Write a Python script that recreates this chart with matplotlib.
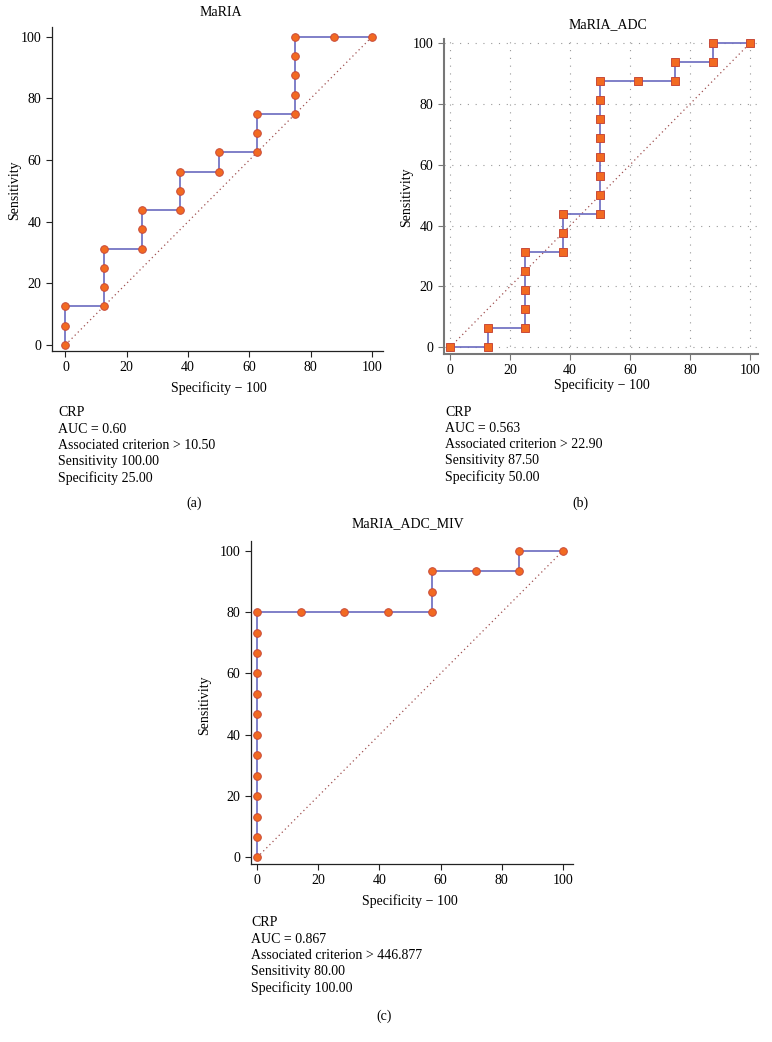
import matplotlib
matplotlib.use("Agg")
import matplotlib.pyplot as plt

plt.rcParams['font.family'] = ['Liberation Serif', 'DejaVu Serif']
plt.rcParams['font.size'] = 10

# ROC points (specificity - 100, sensitivity)
a_x = [0, 0, 0, 12.5, 12.5, 12.5, 12.5, 25, 25, 25, 37.5, 37.5, 37.5, 50, 50,
       62.5, 62.5, 62.5, 75, 75, 75, 75, 75, 87.5, 100]
a_y = [0, 6.25, 12.5, 12.5, 18.75, 25, 31.25, 31.25, 37.5, 43.75, 43.75, 50, 56.25,
       56.25, 62.5, 62.5, 68.75, 75, 75, 81.25, 87.5, 93.75, 100, 100, 100]

b_x = [0, 12.5, 12.5, 25, 25, 25, 25, 25, 37.5, 37.5, 37.5, 50, 50, 50, 50, 50,
       50, 50, 50, 62.5, 75, 75, 87.5, 87.5, 100]
b_y = [0, 0, 6.25, 6.25, 12.5, 18.75, 25, 31.25, 31.25, 37.5, 43.75, 43.75, 50,
       56.25, 62.5, 68.75, 75, 81.25, 87.5, 87.5, 87.5, 93.75, 93.75, 100, 100]

c_x = [0, 0, 0, 0, 0, 0, 0, 0, 0, 0, 0, 0, 0, 14.29, 28.57, 42.86, 57.14, 57.14,
       57.14, 71.43, 85.71, 85.71, 100]
c_y = [0, 6.67, 13.33, 20, 26.67, 33.33, 40, 46.67, 53.33, 60, 66.67, 73.33, 80,
       80, 80, 80, 80, 86.67, 93.33, 93.33, 93.33, 100, 100]

titles = ['MaRIA', 'MaRIA_ADC', 'MaRIA_ADC_MIV']
stats = [
    ['CRP', 'AUC = 0.60', 'Associated criterion > 10.50', 'Sensitivity 100.00', 'Specificity 25.00'],
    ['CRP', 'AUC = 0.563', 'Associated criterion > 22.90', 'Sensitivity 87.50', 'Specificity 50.00'],
    ['CRP', 'AUC = 0.867', 'Associated criterion > 446.877', 'Sensitivity 80.00', 'Specificity 100.00'],
]
panel_tags = ['(a)', '(b)', '(c)']
ticks = [0, 20, 40, 60, 80, 100]

W, H = 772, 1042
fig = plt.figure(figsize=(W / 100, H / 100), dpi=100)


def px_axes(left, top, right, bottom):
    return fig.add_axes([left / W, 1 - bottom / H, (right - left) / W, (bottom - top) / H])


def ftext(x, y, s, **kw):
    fig.text(x / W, 1 - y / H, s, **kw)


line_col = '#6a6abf'
face = '#f26a21'
edge = '#c84a3a'
diag = '#a05050'


def roc(ax, xs, ys, marker, xlim, ylim, grid=False, spine_col='#222222', spine_w=0.9):
    ax.plot([0, 100], [0, 100], color=diag, linestyle=(0, (1, 2.5)), linewidth=0.9, zorder=1)
    ax.plot(xs, ys, color=line_col, linewidth=1.2, marker=marker, markersize=5.5,
            markerfacecolor=face, markeredgecolor=edge, markeredgewidth=0.7,
            clip_on=False, zorder=3)
    ax.set_xlim(*xlim)
    ax.set_ylim(*ylim)
    ax.set_xticks(ticks)
    ax.set_yticks(ticks)
    for s in ['top', 'right']:
        ax.spines[s].set_visible(False)
    for s in ['left', 'bottom']:
        ax.spines[s].set_color(spine_col)
        ax.spines[s].set_linewidth(spine_w)
    ax.tick_params(direction='out', length=4.5, width=0.8, color=spine_col, labelsize=10, pad=3)
    if grid:
        ax.grid(True, color='#999999', linestyle=(0, (1, 6)), linewidth=0.8)
        ax.set_axisbelow(True)


# panel (a)
ax1 = px_axes(52, 27, 383, 351)
roc(ax1, a_x, a_y, 'o', (-4.4, 103.6), (-2, 103.2))
ftext(221, 13, titles[0], ha='center', va='center')
ftext(15, 190, 'Sensitivity', rotation=90, ha='center', va='center')
ftext(219, 388, 'Specificity \u2212 100', ha='center', va='center')

# panel (b)
ax2 = px_axes(444, 39, 758, 354)
roc(ax2, b_x, b_y, 's', (-2, 102.6), (-2.2, 101.3), grid=True, spine_col='#777777', spine_w=1.5)
ftext(608, 25, titles[1], ha='center', va='center')
ftext(407, 197, 'Sensitivity', rotation=90, ha='center', va='center')
ftext(602, 385, 'Specificity \u2212 100', ha='center', va='center')

# panel (c)
ax3 = px_axes(251, 541, 573, 864)
roc(ax3, c_x, c_y, 'o', (-2, 103.3), (-2.15, 103.2))
ftext(408, 524, titles[2], ha='center', va='center')
ftext(205, 705, 'Sensitivity', rotation=90, ha='center', va='center')
ftext(410, 901, 'Specificity \u2212 100', ha='center', va='center')

# statistics text blocks
for (x0, y0), lines in zip([(58, 413), (445, 412), (251, 923)], stats):
    for i, s in enumerate(lines):
        ftext(x0, y0 + i * 16.3, s, ha='left', va='center')

for (x0, y0), tag in zip([(194, 503), (580, 503), (384, 1016)], panel_tags):
    ftext(x0, y0, tag, ha='center', va='center')

fig.savefig('out.png', dpi=100)
